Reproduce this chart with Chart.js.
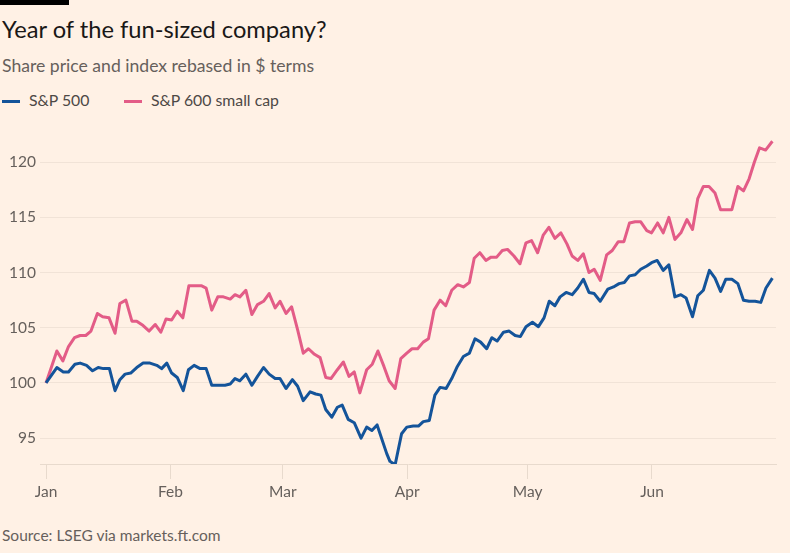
<!DOCTYPE html>
<html>
<head>
<meta charset="utf-8">
<script src="https://cdn.jsdelivr.net/npm/chart.js@4.4.1/dist/chart.umd.min.js"></script>
<style>
  html, body { margin: 0; padding: 0; background: #fff1e5; }
  body { width: 790px; height: 553px; position: relative; overflow: hidden; font-family: Lato, "Noto Sans", sans-serif; }
  .bar { position: absolute; left: 0; top: 0; width: 69px; height: 5px; background: #000; }
  .title { position: absolute; left: 2px; top: 15px; font-size: 23.7px; color: #1a1817; white-space: nowrap; }
  .subtitle { position: absolute; left: 2px; top: 55px; font-size: 17.6px; color: #66605c; white-space: nowrap; }
  .legend { position: absolute; left: 2px; top: 90px; font-size: 15.8px; color: #4d4845; white-space: nowrap; }
  .legend span { position: absolute; top: 0; }
  .legend i { position: absolute; top: 10px; width: 18px; height: 3px; }
  .source { position: absolute; left: 2px; top: 526px; font-size: 15.5px; color: #66605c; white-space: nowrap; }
  canvas { position: absolute; left: 0; top: 120px; }
</style>
</head>
<body>
<div class="bar"></div>
<div class="title">Year of the fun-sized company?</div>
<div class="subtitle">Share price and index rebased in $ terms</div>
<div class="legend">
  <i style="left:0;background:#14549a"></i><span style="left:27px">S&amp;P 500</span>
  <i style="left:122px;background:#e35c87"></i><span style="left:149px">S&amp;P 600 small cap</span>
</div>
<canvas id="chart" width="790" height="400"></canvas>
<div class="source">Source: LSEG via markets.ft.com</div>

<script>
// x values are days since 1 Jan
const monthDays = [0, 31, 59, 90, 120, 151];
const monthLabels = ["Jan", "Feb", "Mar", "Apr", "May", "Jun"];
const yTicks = [95, 100, 105, 110, 115, 120];

const sp500Days = [
  0, 2.7, 4.3, 5.6, 7.2, 8.5, 10.1, 11.6, 13.0, 14.3, 15.8, 17.2, 18.4, 19.7, 21.1, 22.6,
  24.2, 25.9, 27.6, 28.8, 30.1, 31.3, 32.7, 34.2, 35.5, 36.9, 38.4, 39.9, 41.3, 42.9, 44.6,
  45.9, 47.1, 48.3, 49.8, 51.3, 52.7, 54.2, 55.6, 57.1, 58.3, 59.8, 61.4, 62.7, 64.1, 65.8,
  67.2, 68.5, 69.7, 71.2, 72.6, 73.8, 75.3, 76.8, 78.5, 79.9, 81.2, 82.5, 84.9, 85.7, 87.0,
  88.6, 89.9, 91.5, 92.8, 94.0, 95.5, 96.9, 98.2, 99.7, 101.1, 102.5, 104.0, 105.5, 106.9,
  108.3, 109.8, 111.1, 112.4, 114.0, 115.4, 116.9, 118.2, 119.6, 121.2, 122.7, 124.1, 125.4,
  126.8, 128.1, 129.6, 131.1, 132.5, 133.9, 135.3, 136.6, 138.1, 140.0, 141.4, 142.8, 144.1,
  145.4, 146.8, 148.2, 149.7, 150.9, 152.3, 153.8, 155.2, 156.7, 158.2, 159.5, 161.1, 162.4,
  163.8, 165.3, 166.7, 168.1, 169.4, 170.9, 172.4, 173.8, 175.2, 176.7, 178.1, 179.4, 181.0
];
const sp500Values = [
  100.0, 101.4, 101.0, 101.0, 101.7, 101.8, 101.6, 101.1, 101.4, 101.3, 101.3, 99.3, 100.3, 100.8, 100.9, 101.4,
  101.8, 101.8, 101.6, 101.3, 101.8, 100.9, 100.5, 99.3, 101.2, 101.6, 101.3, 101.3, 99.8, 99.8, 99.8,
  99.9, 100.4, 100.2, 100.8, 99.8, 100.6, 101.4, 100.8, 100.4, 100.4, 99.5, 100.3, 99.7, 98.4, 99.2,
  99.0, 98.9, 97.6, 96.9, 97.8, 98.0, 96.7, 96.4, 95.0, 96.0, 95.7, 96.2, 93.6, 92.9, 92.6,
  95.4, 96.0, 96.1, 96.1, 96.5, 96.6, 98.9, 99.6, 99.5, 100.4, 101.5, 102.4, 102.7, 104.0,
  103.7, 103.1, 104.1, 103.8, 104.6, 104.7, 104.3, 104.2, 105.1, 105.5, 105.1, 105.9, 107.4,
  107.0, 107.8, 108.2, 108.0, 108.6, 109.4, 108.2, 108.1, 107.4, 108.5, 108.7, 109.0, 109.1,
  109.7, 109.8, 110.3, 110.6, 110.9, 111.1, 110.2, 110.7, 107.8, 108.0, 107.7, 106.0, 107.9,
  108.4, 110.2, 109.5, 108.3, 109.4, 109.4, 109.0, 107.5, 107.4, 107.4, 107.3, 108.6, 109.5
];

const smallCapDays = [
  0, 1.4, 2.7, 4.2, 5.6, 7.1, 8.5, 9.9, 11.2, 12.8, 14.1, 15.7, 17.2, 18.4, 19.9, 21.4,
  22.6, 24.2, 25.7, 27.2, 28.6, 29.9, 31.3, 32.7, 34.1, 35.6, 37.1, 38.8, 39.9, 41.3, 42.8,
  44.2, 45.9, 47.1, 48.3, 49.8, 51.3, 52.7, 54.2, 55.6, 57.1, 58.3, 59.8, 61.2, 62.7, 64.1,
  65.4, 66.9, 68.3, 69.7, 71.0, 72.6, 74.1, 75.5, 76.8, 78.2, 79.9, 81.3, 82.7, 84.2, 85.5,
  87.0, 88.4, 89.9, 91.2, 92.6, 94.0, 95.3, 96.7, 98.2, 99.6, 101.1, 102.6, 104.0, 105.5,
  106.7, 108.1, 109.6, 110.9, 112.3, 113.7, 115.0, 116.6, 118.1, 119.6, 121.0, 122.5, 123.9,
  125.3, 126.8, 128.3, 129.8, 131.1, 132.5, 133.9, 135.3, 136.6, 138.1, 139.7, 141.1, 142.6,
  144.0, 145.4, 146.8, 148.2, 149.7, 150.9, 152.4, 153.8, 155.2, 156.7, 158.2, 159.7, 161.1,
  162.4, 163.8, 165.2, 166.7, 168.1, 169.4, 170.9, 172.4, 173.8, 175.2, 176.5, 177.8, 179.3, 181.0
];
const smallCapValues = [
  100.0, 101.5, 102.9, 102.0, 103.3, 104.1, 104.3, 104.3, 104.7, 106.3, 106.0, 105.9, 104.5, 107.2, 107.5, 105.6,
  105.6, 105.2, 104.7, 105.3, 104.6, 105.8, 105.7, 106.5, 105.9, 108.8, 108.8, 108.8, 108.6, 106.6, 107.8,
  107.8, 107.6, 108.0, 107.8, 108.4, 106.2, 107.1, 107.4, 108.1, 106.8, 107.4, 106.3, 106.9, 104.8, 102.7,
  103.1, 102.6, 102.3, 100.5, 100.4, 101.2, 101.9, 100.6, 101.0, 99.1, 101.2, 101.7, 102.9, 101.5, 100.2,
  99.5, 102.2, 102.7, 103.1, 103.1, 103.7, 104.0, 106.6, 107.5, 107.0, 108.4, 108.9, 108.7, 109.1,
  111.3, 111.8, 111.1, 111.4, 111.4, 112.0, 112.1, 111.5, 110.8, 112.7, 112.9, 111.8, 113.4,
  114.1, 113.1, 113.6, 112.6, 111.5, 111.1, 111.7, 110.0, 110.3, 109.3, 111.6, 112.0, 112.8,
  112.8, 114.5, 114.6, 114.6, 113.8, 113.6, 114.5, 113.6, 115.0, 113.0, 113.6, 114.8, 113.9,
  116.7, 117.8, 117.8, 117.2, 115.7, 115.7, 115.7, 117.8, 117.4, 118.5, 120.0, 121.3, 121.1, 121.9
];

const toPoints = (days, values) => days.map((d, i) => ({ x: d, y: values[i] }));

const tickFont = { family: "Lato, 'Noto Sans', sans-serif", size: 15.5 };

new Chart(document.getElementById("chart"), {
  type: "line",
  data: {
    datasets: [
      {
        label: "S&P 500",
        data: toPoints(sp500Days, sp500Values),
        borderColor: "#14549a",
        borderWidth: 3,
        pointRadius: 0,
        borderJoinStyle: "round",
      },
      {
        label: "S&P 600 small cap",
        data: toPoints(smallCapDays, smallCapValues),
        borderColor: "#e35c87",
        borderWidth: 3,
        pointRadius: 0,
        borderJoinStyle: "round",
      },
    ],
  },
  options: {
    responsive: false,
    animation: false,
    layout: { padding: { top: 14.6, right: 14, left: 0, bottom: 0 } },
    plugins: {
      legend: { display: false },
      tooltip: { enabled: false },
    },
    scales: {
      x: {
        type: "linear",
        min: -1.5,
        max: 181.9,
        afterBuildTicks: (scale) => { scale.ticks = monthDays.map((v) => ({ value: v })); },
        afterFit: (scale) => { scale.height = 56; },
        ticks: {
          autoSkip: false,
          maxRotation: 0,
          padding: 4,
          color: "#66605c",
          font: tickFont,
          callback: (v) => monthLabels[monthDays.indexOf(v)],
        },
        grid: { drawOnChartArea: false, drawTicks: true, tickLength: 15, tickColor: "#e8dacd" },
        border: { color: "#e8dacd", width: 1 },
      },
      y: {
        type: "linear",
        min: 92.66,
        max: 122.5,
        afterBuildTicks: (scale) => { scale.ticks = yTicks.map((v) => ({ value: v })); },
        afterFit: (scale) => { scale.width = 40; },
        ticks: { padding: 4, color: "#66605c", font: tickFont },
        grid: { color: "#f1e3d7", drawTicks: false },
        border: { display: false },
      },
    },
  },
});
</script>
</body>
</html>
